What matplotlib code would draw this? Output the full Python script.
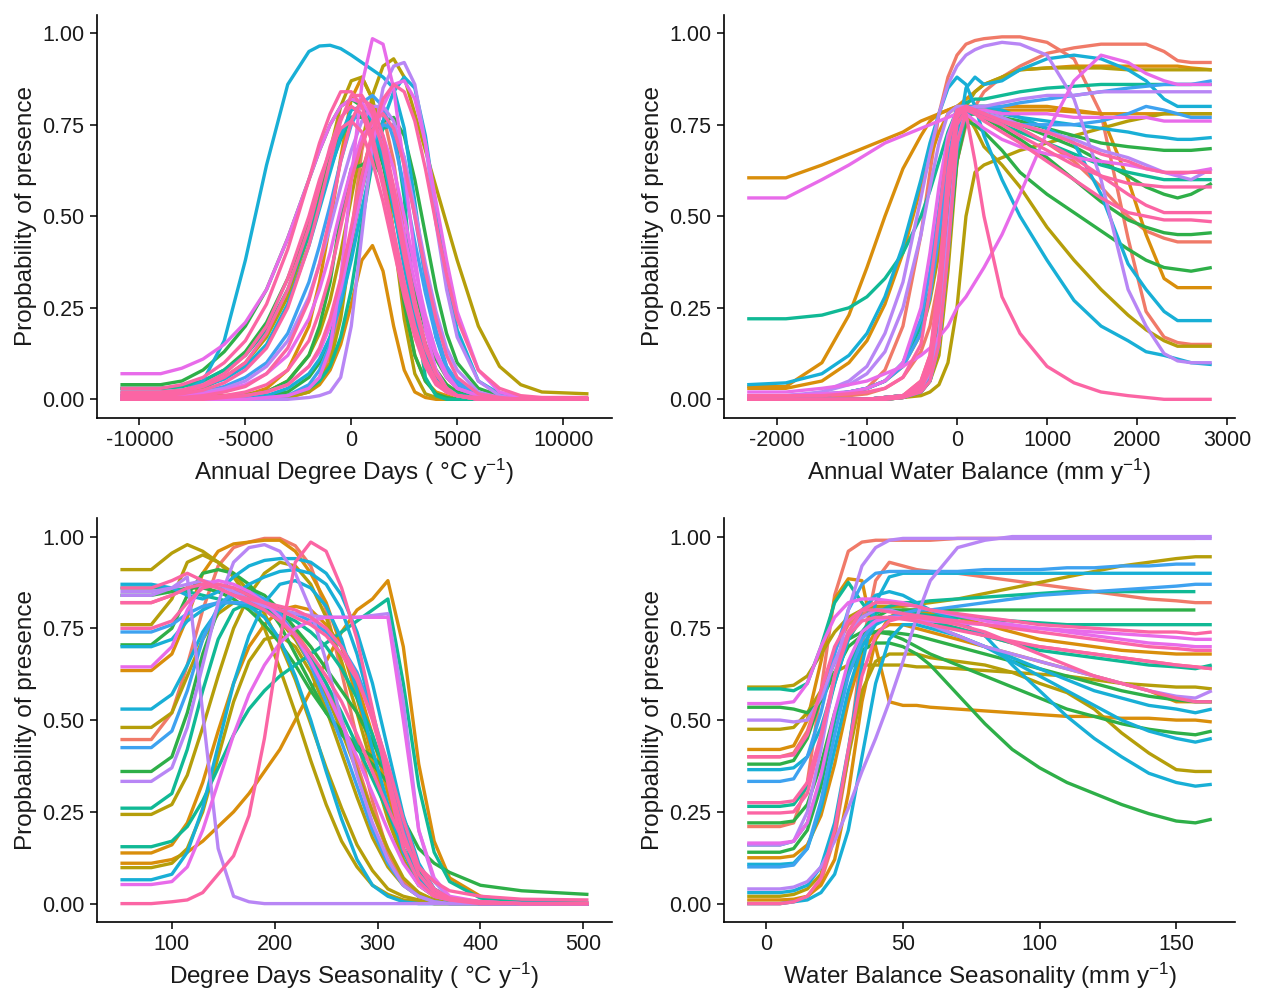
import numpy as np
import matplotlib
matplotlib.use("Agg")
import matplotlib.pyplot as plt

plt.rcParams['font.family'] = ['Liberation Sans', 'DejaVu Sans']
plt.rcParams['axes.unicode_minus'] = False

nan = np.nan

# colour keys, drawn in this order (ggplot hue order, pink ends on top)
farger = {"CO": "#F07A68", "OR": "#D98E0B", "OL": "#B59E0A", "GR": "#2EAF48",
          "TE": "#10B995", "CY": "#18AFD6", "BL": "#3EA2F0", "PU": "#B886F5",
          "MA": "#E86BEA", "PK": "#FB65A4"}
rekkefolge = ["CO", "OR", "OL", "GR", "TE", "CY", "BL", "PU", "MA", "PK"]

# ---- Annual Degree Days
add_x = [-10900, -9000, -8000, -7000, -6000, -5000, -4000, -3000, -2000, -1500, -1000, -500, 0, 500,
         1000, 1500, 2000, 2500, 3000, 3500, 4000, 4500, 5000, 6000, 7000, 8000, 9000, 11200]
add_c = ["CO", "OR", "OR", "OL", "OL", "OL", "GR", "GR", "GR", "GR", "TE", "TE", "CY", "CY", "CY", "BL", "BL",
         "PU", "PU", "MA", "MA", "MA", "MA", "PK", "PK", "PK", "PK", "PK", "PK", "PK"]
add_y = [
    [0,0,0,0,0,0,0.005,0.01,0.03,0.06,0.12,0.25,0.45,0.68,0.8,0.78,0.65,0.45,0.25,0.12,0.05,0.02,0.01,0,0,0,0,0],
    [0,0,0,0,0.005,0.01,0.03,0.08,0.2,0.32,0.48,0.66,0.82,0.88,0.82,0.66,0.45,0.26,0.12,0.05,0.02,0.01,0,0,0,0,0,0],
    [0,0,0,0,0,0,0,0.005,0.02,0.04,0.08,0.15,0.26,0.38,0.42,0.35,0.2,0.08,0.02,0.005,0,0,0,0,0,0,0,0],
    [0.005,0.005,0.005,0.01,0.01,0.015,0.02,0.05,0.12,0.18,0.27,0.4,0.55,0.7,0.83,0.91,0.93,0.88,0.78,0.68,0.58,0.48,0.38,0.2,0.09,0.04,0.02,0.015],
    [0,0,0,0,0,0,0,0.005,0.02,0.05,0.1,0.22,0.42,0.62,0.72,0.66,0.45,0.22,0.07,0.015,0.005,0,0,0,0,0,0,0],
    [0.01,0.01,0.015,0.03,0.06,0.1,0.17,0.28,0.45,0.56,0.68,0.8,0.87,0.88,0.82,0.7,0.55,0.4,0.26,0.15,0.08,0.04,0.02,0.005,0,0,0,0],
    [0.04,0.04,0.05,0.08,0.13,0.2,0.3,0.44,0.6,0.68,0.75,0.8,0.82,0.8,0.75,0.66,0.55,0.42,0.3,0.19,0.11,0.06,0.03,0.01,0.005,0,0,0],
    [0,0,0,0,0.005,0.01,0.02,0.05,0.12,0.2,0.32,0.5,0.63,0.64,0.66,0.6,0.45,0.26,0.12,0.05,0.015,0.005,0,0,0,0,0,0],
    [0,0,0,0,0,0.005,0.01,0.02,0.06,0.1,0.17,0.28,0.42,0.57,0.69,0.76,0.77,0.72,0.6,0.45,0.3,0.18,0.1,0.03,0.01,0.005,0,0],
    [0.03,0.03,0.035,0.05,0.08,0.13,0.21,0.33,0.48,0.57,0.66,0.73,0.77,0.77,0.73,0.64,0.52,0.38,0.25,0.15,0.08,0.04,0.02,0.005,0,0,0,0],
    [0.03,0.03,0.035,0.05,0.08,0.12,0.19,0.3,0.45,0.54,0.63,0.71,0.77,0.78,0.74,0.65,0.52,0.38,0.25,0.14,0.07,0.03,0.015,0.005,0,0,0,0],
    [0,0,0,0,0,0,0.005,0.01,0.03,0.05,0.09,0.17,0.3,0.48,0.65,0.74,0.75,0.55,0.25,0.06,0.01,0,0,0,0,0,0,0],
    [0.01,0.01,0.02,0.05,0.16,0.38,0.64,0.86,0.95,0.965,0.967,0.958,0.94,0.92,0.9,0.88,0.85,0.74,0.54,0.33,0.17,0.08,0.03,0.01,0.005,0,0,0],
    [0,0,0,0,0,0.005,0.01,0.03,0.07,0.11,0.17,0.26,0.38,0.52,0.65,0.76,0.84,0.88,0.85,0.72,0.52,0.33,0.19,0.05,0.015,0.005,0,0],
    [0.02,0.02,0.025,0.035,0.055,0.09,0.15,0.26,0.42,0.52,0.62,0.72,0.79,0.8,0.76,0.66,0.52,0.36,0.22,0.12,0.06,0.03,0.01,0.005,0,0,0,0],
    [0.01,0.01,0.015,0.02,0.035,0.06,0.1,0.18,0.32,0.42,0.53,0.65,0.75,0.81,0.83,0.8,0.71,0.58,0.43,0.29,0.17,0.09,0.05,0.01,0.005,0,0,0],
    [0,0,0,0,0,0,0.005,0.01,0.04,0.08,0.15,0.28,0.45,0.6,0.7,0.75,0.74,0.66,0.5,0.33,0.19,0.09,0.04,0.01,0,0,0,0],
    [0,0,0,0,0,0,0,0,0.005,0.01,0.02,0.06,0.2,0.45,0.7,0.85,0.91,0.92,0.86,0.7,0.48,0.3,0.17,0.05,0.01,0,0,0],
    [0.01,0.01,0.01,0.02,0.03,0.05,0.09,0.16,0.28,0.37,0.47,0.58,0.68,0.76,0.8,0.8,0.76,0.66,0.52,0.37,0.24,0.14,0.08,0.02,0.005,0,0,0],
    [0,0,0,0,0,0,0.005,0.01,0.03,0.06,0.14,0.33,0.6,0.86,0.985,0.97,0.85,0.63,0.39,0.19,0.08,0.03,0.01,0,0,0,0,0],
    [0,0,0,0,0.005,0.01,0.02,0.04,0.09,0.13,0.2,0.3,0.43,0.57,0.7,0.8,0.86,0.87,0.82,0.7,0.54,0.38,0.24,0.08,0.02,0.005,0,0],
    [0.07,0.07,0.085,0.11,0.15,0.21,0.3,0.44,0.6,0.68,0.75,0.8,0.82,0.81,0.77,0.69,0.58,0.45,0.32,0.2,0.12,0.06,0.03,0.01,0.005,0,0,0],
    [0.005,0.005,0.01,0.015,0.025,0.04,0.07,0.12,0.22,0.3,0.4,0.52,0.63,0.72,0.75,0.72,0.63,0.5,0.36,0.23,0.13,0.07,0.03,0.01,0,0,0,0],
    [0.03,0.03,0.04,0.06,0.1,0.16,0.26,0.41,0.6,0.7,0.78,0.84,0.84,0.8,0.72,0.6,0.46,0.32,0.2,0.11,0.05,0.02,0.01,0,0,0,0,0],
    [0.01,0.01,0.015,0.025,0.045,0.08,0.14,0.25,0.42,0.53,0.65,0.76,0.83,0.83,0.78,0.68,0.54,0.39,0.25,0.14,0.07,0.03,0.01,0.005,0,0,0,0],
    [0.005,0.005,0.005,0.01,0.02,0.035,0.07,0.14,0.27,0.37,0.5,0.65,0.76,0.82,0.8,0.72,0.58,0.42,0.27,0.15,0.07,0.03,0.01,0,0,0,0,0],
    [0,0,0,0.005,0.01,0.02,0.04,0.08,0.16,0.24,0.34,0.47,0.6,0.7,0.76,0.78,0.74,0.64,0.5,0.35,0.22,0.12,0.06,0.015,0.005,0,0,0],
    [0,0,0,0,0.005,0.01,0.02,0.04,0.09,0.14,0.22,0.33,0.47,0.61,0.73,0.82,0.86,0.84,0.76,0.63,0.48,0.34,0.22,0.08,0.03,0.01,0.005,0.005],
    [0.02,0.02,0.025,0.04,0.07,0.12,0.2,0.33,0.5,0.6,0.68,0.74,0.76,0.73,0.65,0.54,0.41,0.28,0.17,0.09,0.04,0.02,0.01,0,0,0,0,0],
    [0.015,0.015,0.02,0.035,0.06,0.1,0.18,0.3,0.47,0.58,0.69,0.77,0.8,0.78,0.7,0.58,0.44,0.3,0.18,0.1,0.05,0.02,0.01,0,0,0,0,0],
]

# ---- Annual Water Balance
awb_x = [-2330, -1900, -1500, -1200, -1000, -800, -600, -400, -300, -200, -100, 0, 100, 200, 300, 500,
         700, 1000, 1300, 1600, 1900, 2100, 2300, 2450, 2600, 2830]
awb_c = ["CO", "CO", "CO", "OR", "OR", "OR", "OL", "OL", "OL", "GR", "GR", "GR", "GR", "TE", "TE",
         "CY", "CY", "CY", "CY", "BL", "BL", "PU", "PU", "PU", "MA", "MA", "MA", "PK", "PK", "PK", "PK", "PK"]
awb_y = [
    [0,0,0.005,0.015,0.03,0.08,0.2,0.45,0.62,0.78,0.88,0.94,0.97,0.98,0.985,0.99,0.99,0.975,0.93,0.78,0.44,0.24,0.17,0.155,0.15,0.15],
    [0,0,0.005,0.01,0.015,0.03,0.06,0.13,0.2,0.33,0.5,0.65,0.75,0.8,0.84,0.88,0.91,0.945,0.96,0.97,0.97,0.97,0.95,0.925,0.92,0.92],
    [0,0,0,0,0,0.005,0.01,0.05,0.12,0.3,0.6,0.76,0.8,0.79,0.78,0.76,0.74,0.7,0.65,0.58,0.5,0.46,0.44,0.43,0.43,0.43],
    [0.605,0.605,0.64,0.67,0.69,0.71,0.73,0.76,0.77,0.78,0.79,0.8,0.82,0.84,0.86,0.88,0.9,0.905,0.91,0.91,0.91,0.91,0.91,0.91,0.905,0.9],
    [0.035,0.035,0.1,0.23,0.36,0.5,0.63,0.72,0.76,0.78,0.79,0.8,0.8,0.8,0.8,0.8,0.8,0.8,0.79,0.78,0.6,0.45,0.33,0.305,0.305,0.305],
    [0.03,0.03,0.05,0.1,0.16,0.26,0.4,0.58,0.66,0.73,0.78,0.8,0.8,0.79,0.79,0.79,0.79,0.79,0.785,0.78,0.78,0.78,0.78,0.78,0.78,0.78],
    [0,0,0,0,0,0,0.005,0.01,0.02,0.04,0.1,0.25,0.5,0.62,0.64,0.66,0.68,0.7,0.72,0.74,0.76,0.77,0.78,0.78,0.78,0.78],
    [0,0,0,0,0,0.005,0.01,0.02,0.05,0.12,0.35,0.65,0.78,0.74,0.69,0.64,0.58,0.47,0.38,0.3,0.23,0.19,0.16,0.145,0.145,0.145],
    [0.005,0.005,0.01,0.02,0.03,0.05,0.09,0.18,0.27,0.4,0.58,0.72,0.8,0.84,0.86,0.88,0.9,0.905,0.905,0.905,0.9,0.9,0.9,0.9,0.9,0.9],
    [0,0,0,0,0,0,0.005,0.02,0.05,0.15,0.4,0.65,0.76,0.75,0.73,0.68,0.62,0.56,0.51,0.46,0.41,0.38,0.36,0.355,0.35,0.36],
    [0,0,0,0,0,0.005,0.01,0.03,0.07,0.2,0.45,0.68,0.78,0.78,0.77,0.74,0.71,0.66,0.6,0.54,0.49,0.47,0.455,0.45,0.45,0.455],
    [0,0,0,0,0,0.005,0.01,0.03,0.08,0.22,0.5,0.72,0.79,0.79,0.78,0.77,0.76,0.74,0.72,0.7,0.69,0.685,0.68,0.68,0.68,0.685],
    [0,0,0,0,0,0,0.005,0.02,0.06,0.18,0.45,0.7,0.78,0.78,0.77,0.76,0.75,0.72,0.69,0.65,0.61,0.58,0.56,0.55,0.56,0.59],
    [0.22,0.22,0.23,0.25,0.28,0.33,0.4,0.5,0.57,0.65,0.73,0.79,0.81,0.82,0.82,0.83,0.84,0.85,0.855,0.86,0.86,0.86,0.86,0.86,0.86,0.86],
    [0.005,0.005,0.01,0.02,0.03,0.05,0.1,0.2,0.3,0.45,0.62,0.74,0.78,0.78,0.77,0.75,0.73,0.7,0.67,0.64,0.62,0.61,0.6,0.6,0.6,0.6],
    [0.04,0.045,0.07,0.12,0.18,0.28,0.42,0.6,0.7,0.78,0.85,0.88,0.86,0.8,0.72,0.6,0.5,0.38,0.27,0.2,0.16,0.13,0.12,0.11,0.1,0.095],
    [0,0,0,0,0,0.005,0.01,0.03,0.06,0.15,0.4,0.7,0.85,0.88,0.86,0.87,0.9,0.93,0.94,0.93,0.9,0.87,0.82,0.8,0.8,0.8],
    [0,0,0,0,0,0.005,0.01,0.03,0.07,0.18,0.45,0.7,0.79,0.8,0.8,0.79,0.77,0.74,0.7,0.56,0.37,0.3,0.24,0.215,0.215,0.215],
    [0,0,0,0,0,0,0.005,0.02,0.05,0.15,0.42,0.68,0.78,0.79,0.79,0.78,0.77,0.76,0.75,0.74,0.73,0.72,0.715,0.71,0.71,0.715],
    [0.01,0.01,0.015,0.02,0.03,0.05,0.09,0.18,0.28,0.45,0.65,0.78,0.8,0.78,0.77,0.76,0.75,0.75,0.75,0.76,0.78,0.8,0.79,0.78,0.77,0.77],
    [0.005,0.005,0.01,0.02,0.03,0.05,0.1,0.22,0.35,0.52,0.7,0.8,0.8,0.8,0.8,0.8,0.81,0.82,0.83,0.84,0.85,0.855,0.86,0.86,0.86,0.87],
    [0.005,0.005,0.02,0.05,0.09,0.18,0.32,0.55,0.67,0.78,0.86,0.91,0.94,0.955,0.965,0.975,0.97,0.94,0.82,0.6,0.3,0.2,0.125,0.105,0.1,0.1],
    [0.01,0.01,0.02,0.04,0.07,0.13,0.25,0.45,0.58,0.7,0.78,0.8,0.8,0.79,0.78,0.77,0.75,0.73,0.71,0.68,0.66,0.64,0.62,0.61,0.6,0.63],
    [0,0,0,0,0,0.005,0.01,0.03,0.07,0.18,0.45,0.7,0.79,0.8,0.8,0.81,0.82,0.83,0.83,0.84,0.84,0.84,0.84,0.84,0.84,0.84],
    [0.55,0.55,0.6,0.64,0.67,0.7,0.72,0.74,0.75,0.76,0.77,0.78,0.79,0.79,0.79,0.78,0.78,0.78,0.77,0.77,0.77,0.77,0.76,0.76,0.76,0.76],
    [0.02,0.02,0.03,0.04,0.05,0.07,0.09,0.12,0.14,0.17,0.2,0.25,0.28,0.32,0.36,0.45,0.56,0.73,0.87,0.94,0.92,0.89,0.87,0.86,0.86,0.86],
    [0.01,0.01,0.015,0.02,0.03,0.05,0.1,0.25,0.4,0.58,0.72,0.79,0.78,0.76,0.74,0.71,0.69,0.67,0.66,0.65,0.64,0.63,0.62,0.615,0.62,0.63],
    [0,0,0,0,0,0,0.005,0.02,0.05,0.15,0.4,0.7,0.78,0.65,0.5,0.28,0.18,0.09,0.045,0.02,0.01,0.005,0,0,0,0],
    [0,0,0,0,0,0.005,0.01,0.04,0.1,0.3,0.6,0.77,0.8,0.79,0.78,0.76,0.74,0.7,0.66,0.61,0.56,0.53,0.51,0.51,0.51,0.51],
    [0,0,0,0,0,0.005,0.01,0.05,0.12,0.33,0.62,0.78,0.8,0.78,0.76,0.73,0.7,0.65,0.6,0.55,0.51,0.5,0.49,0.49,0.49,0.485],
    [0.01,0.01,0.01,0.015,0.02,0.03,0.06,0.15,0.3,0.5,0.7,0.79,0.8,0.79,0.78,0.76,0.75,0.73,0.7,0.67,0.65,0.63,0.62,0.62,0.62,0.62],
    [0,0,0,0,0,0,0.005,0.03,0.08,0.25,0.55,0.75,0.79,0.78,0.77,0.75,0.72,0.68,0.64,0.61,0.59,0.585,0.58,0.58,0.58,0.58],
]

# ---- Degree Days Seasonality
dds_x = [50, 80, 100, 115, 130, 145, 160, 175, 190, 205, 220, 235, 250, 265, 280, 295, 310, 325, 340,
         355, 370, 400, 440, 505]
dds_c = ["CO", "CO", "OR", "OR", "OR", "OL", "OL", "OL", "OL", "OL", "GR", "GR", "GR", "TE", "TE", "TE",
         "CY", "CY", "CY", "CY", "BL", "BL", "PU", "PU", "PU", "MA", "MA", "PK", "PK", "PK", "PK"]
dds_y = [
    [0.447,0.447,0.52,0.65,0.8,0.92,0.97,0.985,0.995,0.995,0.975,0.92,0.8,0.63,0.45,0.28,0.14,0.06,0.025,0.01,0.005,0,0,0],
    [0.82,0.82,0.84,0.86,0.87,0.87,0.86,0.84,0.81,0.78,0.74,0.68,0.6,0.5,0.38,0.25,0.14,0.06,0.02,0.01,0.005,0,0,0],
    [0.635,0.635,0.68,0.78,0.9,0.96,0.98,0.985,0.99,0.99,0.96,0.9,0.82,0.7,0.56,0.4,0.25,0.12,0.05,0.02,0.01,0,0,0],
    [0.11,0.11,0.12,0.14,0.17,0.21,0.25,0.3,0.36,0.42,0.5,0.58,0.66,0.74,0.8,0.83,0.88,0.7,0.38,0.17,0.07,0.02,0.005,0],
    [0.138,0.138,0.16,0.22,0.33,0.47,0.6,0.7,0.76,0.8,0.81,0.8,0.76,0.7,0.6,0.46,0.3,0.15,0.06,0.02,0.01,0,0,0],
    [0.91,0.91,0.955,0.978,0.96,0.93,0.89,0.83,0.75,0.64,0.52,0.39,0.27,0.17,0.1,0.05,0.025,0.01,0.005,0,0,0,0,0],
    [0.76,0.76,0.83,0.93,0.95,0.93,0.9,0.85,0.79,0.71,0.61,0.49,0.37,0.26,0.16,0.09,0.04,0.02,0.01,0,0,0,0,0],
    [0.098,0.098,0.11,0.15,0.25,0.4,0.55,0.66,0.72,0.73,0.7,0.63,0.53,0.41,0.29,0.18,0.1,0.05,0.02,0.01,0,0,0,0],
    [0.243,0.243,0.27,0.35,0.48,0.62,0.75,0.84,0.9,0.93,0.92,0.87,0.78,0.66,0.52,0.37,0.23,0.12,0.05,0.02,0.01,0,0,0],
    [0.48,0.48,0.52,0.62,0.72,0.79,0.82,0.82,0.8,0.77,0.72,0.65,0.57,0.47,0.36,0.25,0.15,0.07,0.03,0.01,0.005,0,0,0],
    [0.705,0.705,0.75,0.84,0.9,0.91,0.9,0.87,0.82,0.76,0.68,0.6,0.52,0.46,0.42,0.38,0.33,0.23,0.15,0.11,0.085,0.05,0.035,0.025],
    [0.36,0.36,0.4,0.52,0.68,0.8,0.85,0.86,0.84,0.8,0.75,0.7,0.64,0.58,0.52,0.44,0.36,0.2,0.08,0.03,0.01,0,0,0],
    [0.84,0.84,0.85,0.86,0.86,0.85,0.83,0.8,0.76,0.71,0.65,0.58,0.52,0.47,0.43,0.4,0.36,0.22,0.1,0.04,0.015,0.005,0,0],
    [0.155,0.155,0.17,0.21,0.28,0.37,0.46,0.53,0.58,0.62,0.65,0.68,0.71,0.74,0.77,0.8,0.83,0.6,0.32,0.14,0.06,0.015,0.005,0],
    [0.26,0.26,0.3,0.42,0.58,0.72,0.8,0.82,0.81,0.78,0.73,0.67,0.6,0.52,0.43,0.34,0.25,0.15,0.07,0.03,0.01,0,0,0],
    [0.86,0.86,0.86,0.85,0.84,0.83,0.82,0.81,0.8,0.79,0.77,0.74,0.7,0.64,0.56,0.46,0.34,0.2,0.09,0.035,0.01,0,0,0],
    [0.87,0.87,0.86,0.84,0.83,0.85,0.89,0.92,0.935,0.94,0.94,0.93,0.9,0.84,0.74,0.6,0.42,0.24,0.11,0.04,0.015,0.005,0,0],
    [0.53,0.53,0.57,0.65,0.74,0.8,0.84,0.87,0.89,0.905,0.91,0.9,0.87,0.8,0.68,0.52,0.34,0.18,0.07,0.02,0.01,0,0,0],
    [0.7,0.7,0.72,0.77,0.8,0.82,0.82,0.81,0.78,0.72,0.62,0.5,0.36,0.23,0.12,0.05,0.02,0.005,0,0,0,0,0,0],
    [0.065,0.065,0.08,0.14,0.26,0.43,0.6,0.73,0.82,0.87,0.88,0.86,0.81,0.72,0.58,0.42,0.27,0.14,0.06,0.02,0.01,0,0,0],
    [0.425,0.425,0.47,0.58,0.72,0.81,0.85,0.85,0.83,0.79,0.73,0.65,0.55,0.44,0.32,0.2,0.11,0.05,0.02,0.005,0,0,0,0],
    [0.74,0.74,0.76,0.79,0.81,0.82,0.82,0.82,0.81,0.8,0.79,0.77,0.74,0.7,0.63,0.52,0.37,0.2,0.08,0.03,0.01,0,0,0],
    [0.84,0.84,0.86,0.89,0.52,0.15,0.02,0.005,0,0,0,0,0,0,0,0,0,0,0,0,0,0,0,0],
    [0.333,0.333,0.37,0.48,0.65,0.82,0.93,0.97,0.978,0.96,0.9,0.8,0.66,0.5,0.35,0.22,0.12,0.05,0.02,0.005,0,0,0,0],
    [0.85,0.85,0.86,0.87,0.88,0.87,0.85,0.83,0.81,0.8,0.79,0.785,0.78,0.78,0.78,0.785,0.79,0.55,0.2,0.06,0.015,0.005,0,0],
    [0.645,0.645,0.7,0.8,0.87,0.88,0.87,0.85,0.82,0.78,0.73,0.66,0.58,0.49,0.4,0.3,0.2,0.11,0.05,0.02,0.01,0,0,0],
    [0.052,0.052,0.06,0.1,0.2,0.33,0.46,0.57,0.65,0.71,0.75,0.77,0.78,0.78,0.78,0.78,0.78,0.5,0.2,0.07,0.02,0.005,0,0],
    [0,0,0.005,0.01,0.03,0.08,0.13,0.24,0.45,0.72,0.93,0.985,0.96,0.86,0.72,0.53,0.33,0.15,0.06,0.02,0.01,0,0,0],
    [0.86,0.86,0.88,0.9,0.88,0.86,0.84,0.83,0.82,0.81,0.8,0.78,0.75,0.7,0.62,0.5,0.35,0.19,0.08,0.03,0.01,0.005,0,0],
    [0.75,0.75,0.77,0.82,0.86,0.87,0.86,0.84,0.82,0.8,0.78,0.76,0.73,0.68,0.61,0.51,0.38,0.23,0.1,0.04,0.015,0.005,0,0],
    [0.82,0.82,0.84,0.86,0.87,0.86,0.84,0.82,0.8,0.77,0.73,0.68,0.62,0.55,0.46,0.36,0.26,0.17,0.1,0.06,0.035,0.02,0.012,0.01],
]

# ---- Water Balance Seasonality
wbs_x = [-7, 5, 10, 15, 20, 25, 30, 35, 40, 45, 50, 55, 60, 70, 80, 90, 100, 110, 120, 130, 140, 150, 157, 163]
wbs_c = ["CO", "CO", "CO", "OR", "OR", "OR", "OL", "OL", "OL", "GR", "GR", "GR", "GR", "TE", "TE", "TE",
         "CY", "CY", "CY", "CY", "BL", "BL", "PU", "PU", "PU", "MA", "MA", "PK", "PK", "PK", "PK"]
wbs_y = [
    [0.21,0.21,0.22,0.33,0.58,0.84,0.96,0.985,0.99,0.99,0.99,0.99,0.99,0.995,0.995,0.995,0.995,0.995,0.995,0.995,0.995,0.995,0.995,nan],
    [0,0,0.005,0.02,0.06,0.18,0.4,0.7,0.88,0.93,0.92,0.91,0.905,0.9,0.89,0.88,0.87,0.86,0.85,0.84,0.83,0.825,0.82,0.82],
    [0.4,0.4,0.41,0.47,0.58,0.69,0.76,0.79,0.8,0.8,0.79,0.78,0.77,0.75,0.73,0.71,0.7,0.69,0.68,0.67,0.66,0.65,0.645,0.64],
    [0.42,0.42,0.43,0.5,0.66,0.83,0.885,0.88,0.7,0.55,0.54,0.54,0.535,0.53,0.525,0.52,0.515,0.51,0.51,0.505,0.505,0.5,0.5,0.495],
    [0.125,0.125,0.13,0.16,0.24,0.38,0.55,0.68,0.74,0.76,0.76,0.75,0.74,0.72,0.7,0.68,0.66,0.64,0.62,0.6,0.58,0.55,0.55,0.55],
    [0.01,0.01,0.012,0.02,0.05,0.12,0.3,0.55,0.72,0.78,0.8,0.8,0.79,0.78,0.76,0.74,0.72,0.71,0.7,0.69,0.685,0.68,0.68,0.68],
    [0.59,0.59,0.595,0.62,0.68,0.74,0.78,0.8,0.81,0.81,0.81,0.815,0.82,0.83,0.845,0.86,0.875,0.89,0.905,0.92,0.93,0.94,0.945,0.945],
    [0.475,0.475,0.48,0.52,0.58,0.63,0.65,0.65,0.65,0.65,0.65,0.645,0.645,0.64,0.635,0.63,0.625,0.62,0.61,0.6,0.595,0.59,0.59,0.585],
    [0.02,0.02,0.025,0.04,0.08,0.2,0.4,0.58,0.66,0.68,0.68,0.68,0.67,0.66,0.65,0.63,0.6,0.575,0.53,0.465,0.41,0.365,0.36,0.36],
    [0.22,0.22,0.225,0.27,0.38,0.52,0.63,0.69,0.71,0.71,0.7,0.68,0.65,0.57,0.49,0.42,0.37,0.33,0.3,0.27,0.245,0.225,0.22,0.23],
    [0.38,0.38,0.39,0.45,0.56,0.66,0.72,0.74,0.74,0.735,0.72,0.7,0.68,0.65,0.62,0.59,0.56,0.53,0.51,0.49,0.475,0.465,0.46,0.47],
    [0.14,0.14,0.15,0.2,0.32,0.5,0.65,0.74,0.78,0.8,0.8,0.8,0.8,0.8,0.8,0.8,0.8,0.8,0.8,0.8,0.8,0.8,0.8,nan],
    [0.535,0.535,0.53,0.52,0.55,0.63,0.7,0.73,0.74,0.74,0.735,0.73,0.72,0.7,0.68,0.66,0.64,0.62,0.6,0.58,0.565,0.555,0.55,0.55],
    [0.585,0.585,0.58,0.6,0.7,0.82,0.875,0.82,0.77,0.78,0.79,0.79,0.785,0.78,0.775,0.77,0.765,0.76,0.76,0.76,0.76,0.76,0.76,0.76],
    [0.16,0.16,0.17,0.22,0.34,0.5,0.64,0.74,0.79,0.81,0.82,0.82,0.825,0.83,0.835,0.84,0.845,0.85,0.85,0.85,0.85,0.85,0.85,nan],
    [0.265,0.265,0.27,0.32,0.45,0.6,0.72,0.78,0.8,0.8,0.79,0.78,0.77,0.75,0.73,0.71,0.69,0.68,0.67,0.66,0.65,0.645,0.64,0.65],
    [0.365,0.365,0.37,0.4,0.48,0.6,0.72,0.8,0.84,0.85,0.84,0.82,0.8,0.77,0.73,0.65,0.58,0.51,0.45,0.4,0.355,0.33,0.32,0.325],
    [0.03,0.03,0.035,0.05,0.1,0.22,0.42,0.65,0.82,0.89,0.9,0.9,0.9,0.9,0.9,0.9,0.9,0.9,0.9,0.9,0.9,0.9,0.9,0.9],
    [0.107,0.107,0.11,0.15,0.26,0.42,0.58,0.7,0.76,0.78,0.78,0.77,0.76,0.73,0.7,0.66,0.62,0.58,0.54,0.5,0.47,0.45,0.44,0.45],
    [0,0,0.005,0.01,0.03,0.08,0.2,0.4,0.6,0.72,0.76,0.76,0.75,0.73,0.7,0.67,0.64,0.61,0.58,0.56,0.54,0.53,0.52,0.53],
    [0.333,0.333,0.34,0.4,0.52,0.68,0.8,0.87,0.9,0.905,0.905,0.905,0.905,0.905,0.91,0.91,0.91,0.915,0.915,0.92,0.92,0.925,0.925,nan],
    [0.1,0.1,0.105,0.15,0.28,0.46,0.62,0.72,0.77,0.78,0.79,0.8,0.8,0.81,0.82,0.83,0.84,0.845,0.85,0.855,0.86,0.865,0.87,0.87],
    [0.04,0.04,0.045,0.06,0.1,0.17,0.26,0.36,0.45,0.55,0.66,0.78,0.88,0.97,0.99,1.0,1.0,1.0,1.0,1.0,1.0,1.0,1.0,1.0],
    [0.5,0.5,0.495,0.5,0.56,0.66,0.74,0.78,0.8,0.8,0.79,0.77,0.76,0.73,0.7,0.68,0.66,0.64,0.62,0.6,0.58,0.565,0.56,0.58],
    [0.16,0.16,0.17,0.25,0.42,0.62,0.8,0.92,0.97,0.99,0.995,0.995,0.995,0.995,0.995,0.995,0.995,0.995,0.995,0.995,0.995,0.995,0.995,0.995],
    [0.545,0.545,0.55,0.6,0.7,0.78,0.82,0.83,0.83,0.825,0.82,0.81,0.8,0.785,0.77,0.76,0.75,0.74,0.73,0.72,0.71,0.705,0.7,0.7],
    [0.165,0.165,0.17,0.22,0.35,0.52,0.66,0.74,0.77,0.78,0.78,0.775,0.77,0.765,0.76,0.755,0.75,0.745,0.74,0.735,0.73,0.725,0.72,0.72],
    [0.275,0.275,0.28,0.33,0.46,0.62,0.74,0.8,0.82,0.82,0.815,0.81,0.8,0.79,0.78,0.77,0.76,0.755,0.75,0.745,0.74,0.74,0.735,0.74],
    [0,0,0.005,0.02,0.07,0.2,0.42,0.62,0.73,0.77,0.78,0.78,0.775,0.76,0.74,0.71,0.68,0.65,0.62,0.6,0.58,0.56,0.55,0.55],
    [0.247,0.247,0.25,0.3,0.45,0.62,0.73,0.77,0.78,0.78,0.775,0.77,0.76,0.745,0.73,0.715,0.7,0.69,0.68,0.67,0.66,0.65,0.645,0.64],
    [0.4,0.4,0.405,0.46,0.58,0.7,0.77,0.8,0.8,0.795,0.79,0.785,0.78,0.77,0.76,0.75,0.74,0.73,0.72,0.71,0.7,0.695,0.69,0.69],
]

ytikk = [0, 0.25, 0.5, 0.75, 1.0]
yetiketter = ["0.00", "0.25", "0.50", "0.75", "1.00"]


def tegn(ax, xs, ys, cs, xtikk, xtekst):
    for key in rekkefolge:
        for y, c in zip(ys, cs):
            if c == key:
                ax.plot(xs, y, color=farger[c], lw=2.4, solid_capstyle="butt", solid_joinstyle="round")
    span = xs[-1] - xs[0]
    ax.set_xlim(xs[0] - 0.05 * span, xs[-1] + 0.05 * span)
    ax.set_ylim(-0.05, 1.05)
    ax.set_xticks(xtikk)
    ax.set_yticks(ytikk)
    ax.set_yticklabels(yetiketter)
    for s in ["top", "right"]:
        ax.spines[s].set_visible(False)
    for s in ["left", "bottom"]:
        ax.spines[s].set_linewidth(1.2)
        ax.spines[s].set_color("black")
    ax.tick_params(labelsize=15.5, length=5, width=1.1, colors="black", labelcolor="#1a1a1a", pad=4)
    ax.set_xlabel(xtekst, fontsize=17.5, color="#1a1a1a", labelpad=4)
    ax.set_ylabel("Propbability of presence", fontsize=17.5, color="#1a1a1a", labelpad=4)


fig = plt.figure(figsize=(12.65, 9.92), dpi=100)
ax1 = fig.add_axes([0.0767, 0.579, 0.407, 0.406])
ax2 = fig.add_axes([0.5723, 0.579, 0.404, 0.406])
ax3 = fig.add_axes([0.0767, 0.0706, 0.407, 0.407])
ax4 = fig.add_axes([0.5723, 0.0706, 0.404, 0.407])

tegn(ax1, add_x, add_y, add_c, [-10000, -5000, 0, 5000, 10000],
     r"Annual Degree Days ( °C $\mathregular{y^{-1}}$)")
tegn(ax2, awb_x, awb_y, awb_c, [-2000, -1000, 0, 1000, 2000, 3000],
     r"Annual Water Balance (mm $\mathregular{y^{-1}}$)")
tegn(ax3, dds_x, dds_y, dds_c, [100, 200, 300, 400, 500],
     r"Degree Days Seasonality ( °C $\mathregular{y^{-1}}$)")
tegn(ax4, wbs_x, wbs_y, wbs_c, [0, 50, 100, 150],
     r"Water Balance Seasonality (mm $\mathregular{y^{-1}}$)")

fig.savefig("out.png", dpi=100)
